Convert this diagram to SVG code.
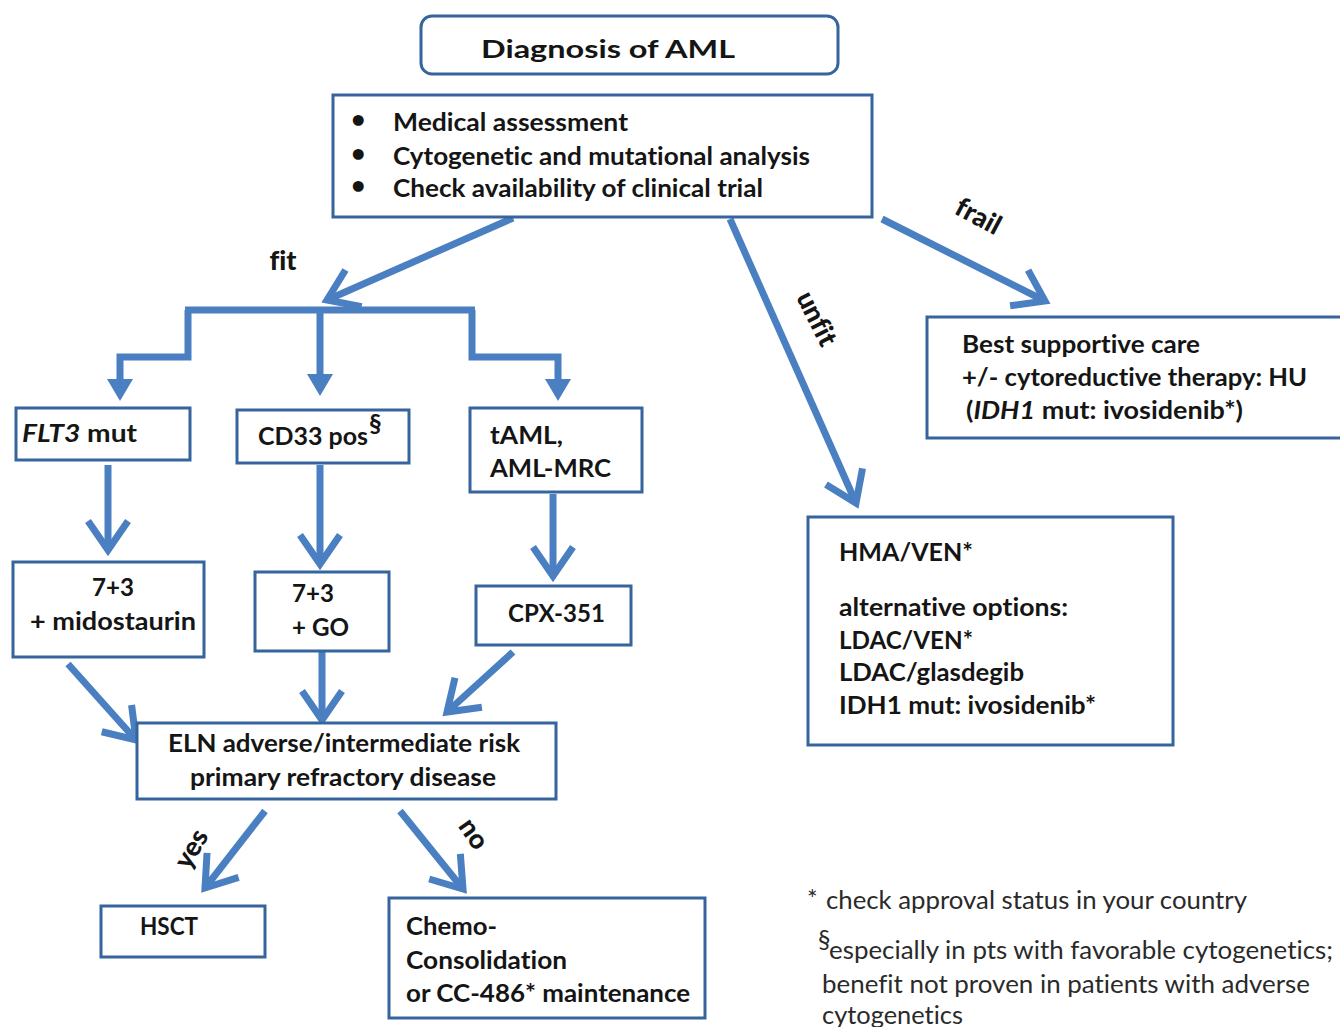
<svg xmlns="http://www.w3.org/2000/svg" width="1340" height="1027" viewBox="0 0 1340 1027">
<style>
.box{fill:#fff;stroke:#35659c;stroke-width:3}
text{font-variant-ligatures:none}
.t{font-family:Lato,"Open Sans","Liberation Sans",sans-serif;font-weight:bold;font-size:25px;fill:#151515}
.fn{font-family:Lato,"Open Sans","Liberation Sans",sans-serif;font-weight:normal;font-size:25px;fill:#2a2a2a}
.lbl{font-family:Lato,"Open Sans","Liberation Sans",sans-serif;font-weight:900;font-size:27px;fill:#151515}
.c{fill:none;stroke:#4a7fc1;stroke-width:7}
.cv{fill:none;stroke:#4a7fc1;stroke-width:7;marker-end:url(#v)}
.cf{fill:none;stroke:#4a7fc1;stroke-width:7;marker-end:url(#tri)}
</style>
<defs>
<marker id="v" markerUnits="userSpaceOnUse" viewBox="0 0 40 48" markerWidth="40" markerHeight="48" refX="33" refY="24" orient="auto">
<path d="M4,4 L33,24 L4,44" fill="none" stroke="#4a7fc1" stroke-width="7"/>
</marker>
<marker id="tri" markerUnits="userSpaceOnUse" viewBox="0 0 22 26" markerWidth="22" markerHeight="26" refX="1" refY="13" orient="auto">
<path d="M0,0 L22,13 L0,26 Z" fill="#4a7fc1"/>
</marker>
</defs>

<g id="connectors">
<line class="cv" x1="513" y1="218" x2="327" y2="300"/>
<line class="cv" x1="730" y1="219" x2="856" y2="503"/>
<line class="cv" x1="882" y1="219" x2="1045" y2="301"/>
<path class="c" d="M185,310 H475"/>
<path class="cf" d="M188,310 V357 H120 V380"/>
<path class="cf" d="M320,310 V375"/>
<path class="cf" d="M472,310 V357 H558 V380"/>
<line class="cv" x1="108" y1="465" x2="108" y2="550"/>
<line class="cv" x1="320" y1="465" x2="320" y2="564"/>
<line class="cv" x1="553" y1="494" x2="553" y2="576"/>
<line class="cv" x1="68" y1="664" x2="136" y2="740"/>
<line class="cv" x1="322" y1="652" x2="322" y2="720"/>
<line class="cv" x1="513" y1="652" x2="447" y2="712"/>
<line class="cv" x1="265" y1="811" x2="205" y2="888"/>
<line class="cv" x1="400" y1="811" x2="463" y2="889"/>
<text class="lbl" x="283" y="270" text-anchor="middle">fit</text>
<text class="lbl" x="818" y="318" text-anchor="middle" dominant-baseline="central" transform="rotate(63 818 318)">unfit</text>
<text class="lbl" x="979" y="215" text-anchor="middle" dominant-baseline="central" font-size="29" transform="rotate(28 979 215)">frail</text>
<text class="lbl" x="190" y="848" text-anchor="middle" dominant-baseline="central" font-size="24" transform="rotate(-60 190 848)">yes</text>
<text class="lbl" x="475" y="833" text-anchor="middle" dominant-baseline="central" font-size="24" transform="rotate(55 475 833)">no</text>
</g>

<g id="diagnosis">
<rect class="box" x="421" y="16" width="417" height="58" rx="11"/>
<text class="t" x="481" y="58" font-size="30" textLength="254" lengthAdjust="spacingAndGlyphs">Diagnosis of AML</text>
</g>

<g id="assessment">
<rect class="box" x="333" y="95" width="539" height="122"/>
<text class="t" x="351" y="128" font-size="15">•</text>
<text class="t" x="351" y="162" font-size="15">•</text>
<text class="t" x="351" y="194" font-size="15">•</text>
<text class="t" x="393" y="131" textLength="235" lengthAdjust="spacingAndGlyphs">Medical assessment</text>
<text class="t" x="393" y="165" textLength="417" lengthAdjust="spacingAndGlyphs">Cytogenetic and mutational analysis</text>
<text class="t" x="393" y="197" textLength="370" lengthAdjust="spacingAndGlyphs">Check availability of clinical trial</text>
</g>

<g id="supportive">
<rect class="box" x="927" y="317" width="420" height="121"/>
<text class="t" x="962" y="353" textLength="238" lengthAdjust="spacingAndGlyphs">Best supportive care</text>
<text class="t" x="962" y="386" textLength="345" lengthAdjust="spacingAndGlyphs">+/- cytoreductive therapy: HU</text>
<text class="t" x="966" y="419" textLength="277" lengthAdjust="spacingAndGlyphs">(<tspan font-style="italic">IDH1</tspan> mut: ivosidenib*)</text>
</g>

<g id="unfit-therapy">
<rect class="box" x="808" y="517" width="365" height="228"/>
<text class="t" x="839" y="561" textLength="134" lengthAdjust="spacingAndGlyphs">HMA/VEN*</text>
<text class="t" x="839" y="616" textLength="229" lengthAdjust="spacingAndGlyphs">alternative options:</text>
<text class="t" x="839" y="649" textLength="134" lengthAdjust="spacingAndGlyphs">LDAC/VEN*</text>
<text class="t" x="839" y="681" textLength="185" lengthAdjust="spacingAndGlyphs">LDAC/glasdegib</text>
<text class="t" x="839" y="714" textLength="257" lengthAdjust="spacingAndGlyphs">IDH1 mut: ivosidenib*</text>
</g>

<g id="flt3">
<rect class="box" x="16" y="408" width="174" height="52"/>
<text class="t" x="22" y="442" textLength="115" lengthAdjust="spacingAndGlyphs"><tspan font-style="italic">FLT3</tspan> mut</text>
</g>

<g id="cd33">
<rect class="box" x="237" y="410" width="172" height="53"/>
<text class="t" x="258" y="445" textLength="110" lengthAdjust="spacingAndGlyphs">CD33 pos</text>
<text class="t" x="369" y="432" font-size="14" font-weight="normal">§</text>
</g>

<g id="taml">
<rect class="box" x="470" y="408" width="172" height="84"/>
<text class="t" x="490" y="444" textLength="73" lengthAdjust="spacingAndGlyphs">tAML,</text>
<text class="t" x="490" y="477" textLength="121" lengthAdjust="spacingAndGlyphs">AML-MRC</text>
</g>

<g id="midostaurin">
<rect class="box" x="13" y="562" width="191" height="95"/>
<text class="t" x="92" y="596" textLength="42" lengthAdjust="spacingAndGlyphs">7+3</text>
<text class="t" x="30" y="630" textLength="166" lengthAdjust="spacingAndGlyphs">+ midostaurin</text>
</g>

<g id="go">
<rect class="box" x="255" y="572" width="134" height="79"/>
<text class="t" x="292" y="602" textLength="42" lengthAdjust="spacingAndGlyphs">7+3</text>
<text class="t" x="292" y="636" textLength="57" lengthAdjust="spacingAndGlyphs">+ GO</text>
</g>

<g id="cpx">
<rect class="box" x="476" y="586" width="155" height="59"/>
<text class="t" x="508" y="622" textLength="97" lengthAdjust="spacingAndGlyphs">CPX-351</text>
</g>

<g id="eln">
<rect class="box" x="137" y="723" width="419" height="76"/>
<text class="t" x="168" y="752" textLength="352" lengthAdjust="spacingAndGlyphs">ELN adverse/intermediate risk</text>
<text class="t" x="190" y="786" textLength="306" lengthAdjust="spacingAndGlyphs">primary refractory disease</text>
</g>

<g id="hsct">
<rect class="box" x="101" y="906" width="164" height="51"/>
<text class="t" x="140" y="935" textLength="58" lengthAdjust="spacingAndGlyphs">HSCT</text>
</g>

<g id="consolidation">
<rect class="box" x="389" y="898" width="316" height="120"/>
<text class="t" x="406" y="935" textLength="91" lengthAdjust="spacingAndGlyphs">Chemo-</text>
<text class="t" x="406" y="969" textLength="161" lengthAdjust="spacingAndGlyphs">Consolidation</text>
<text class="t" x="406" y="1002" textLength="284" lengthAdjust="spacingAndGlyphs">or CC-486* maintenance</text>
</g>

<g id="footnotes">
<text class="fn" x="807" y="908" font-size="38" font-weight="bold">*</text>
<text class="fn" x="826" y="909" textLength="421" lengthAdjust="spacingAndGlyphs">check approval status in your country</text>
<text class="fn" x="818" y="948" font-size="10">§</text>
<text class="fn" x="829" y="959" textLength="504" lengthAdjust="spacingAndGlyphs">especially in pts with favorable cytogenetics;</text>
<text class="fn" x="822" y="993" textLength="488" lengthAdjust="spacingAndGlyphs">benefit not proven in patients with adverse</text>
<text class="fn" x="822" y="1024" textLength="141" lengthAdjust="spacingAndGlyphs">cytogenetics</text>
</g>
</svg>
